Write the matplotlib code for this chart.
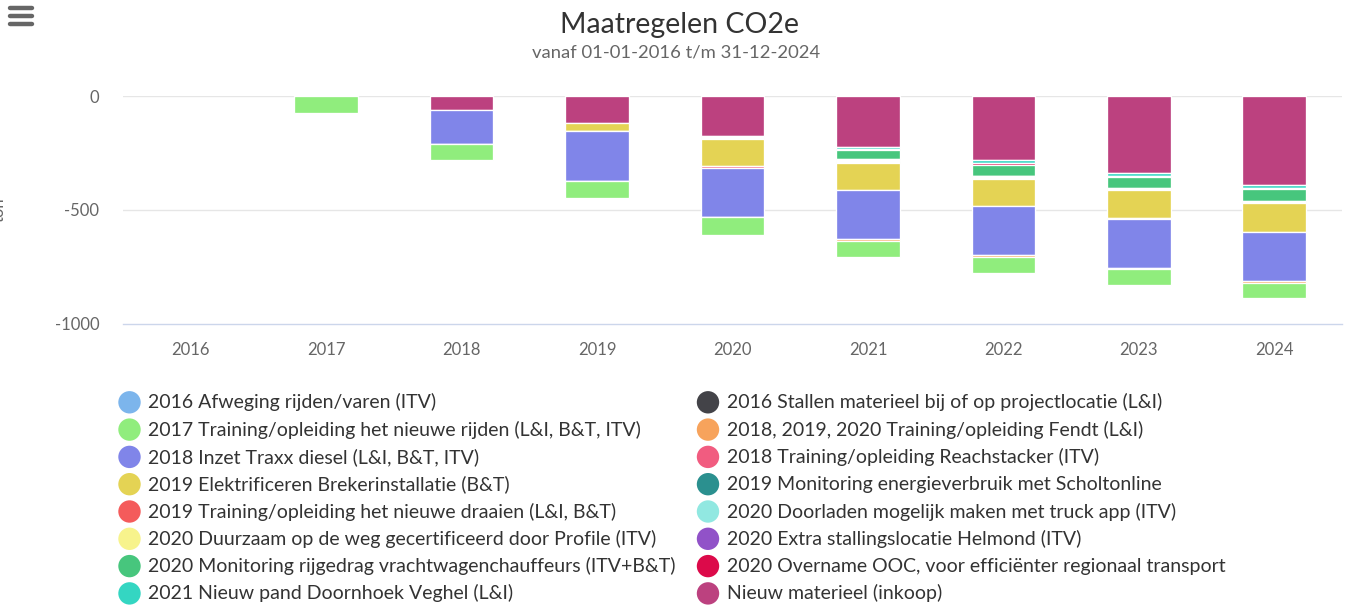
import matplotlib
matplotlib.use("Agg")
import matplotlib.pyplot as plt
import numpy as np

# ---------------- data ----------------
years = ["2016", "2017", "2018", "2019", "2020", "2021", "2022", "2023", "2024"]

series_names = [
    "2016 Afweging rijden/varen (ITV)",
    "2016 Stallen materieel bij of op projectlocatie (L&I)",
    "2017 Training/opleiding het nieuwe rijden (L&I, B&T, ITV)",
    "2018, 2019, 2020 Training/opleiding Fendt (L&I)",
    "2018 Inzet Traxx diesel (L&I, B&T, ITV)",
    "2018 Training/opleiding Reachstacker (ITV)",
    "2019 Elektrificeren Brekerinstallatie (B&T)",
    "2019 Monitoring energieverbruik met Scholtonline",
    "2019 Training/opleiding het nieuwe draaien (L&I, B&T)",
    "2020 Doorladen mogelijk maken met truck app (ITV)",
    "2020 Duurzaam op de weg gecertificeerd door Profile (ITV)",
    "2020 Extra stallingslocatie Helmond (ITV)",
    "2020 Monitoring rijgedrag vrachtwagenchauffeurs (ITV+B&T)",
    "2020 Overname OOC, voor efficiënter regionaal transport",
    "2021 Nieuw pand Doornhoek Veghel (L&I)",
    "Nieuw materieel (inkoop)",
]

afweging_2016      = [0, 0, 0, 0, 0, 0, 0, 0, 0]
stallen_2016       = [0, 0, 0, 0, 0, 0, 0, 0, 0]
training_rijden    = [0, -75, -68, -73, -77, -70, -71, -74, -69]
training_fendt     = [0, 0, -3, -3, -3, -6, -6, -3, -6]
traxx_diesel       = [0, 0, -146, -216, -214, -218, -217, -216, -217]
reachstacker       = [0, 0, 0, -2, -6, 0, 0, -3, 0]
elektrificeren     = [0, 0, 0, -33, -119, -118, -118, -124, -125]
monitoring_energie = [0, 0, 0, 0, -4, -4, -4, -3, -3]
training_draaien   = [0, 0, 0, 0, 0, 0, 0, 0, 0]
doorladen_app      = [0, 0, 0, 0, -4, -4, -4, -2, -3]
duurzaam_profile   = [0, 0, 0, 0, -4, -4, -4, 0, 0]
stalling_helmond   = [0, 0, 0, 0, -4, -3, -3, -2, -3]
monitoring_rij     = [0, 0, 0, 0, 0, -42, -48, -48, -54]
overname_ooc       = [0, 0, 0, 0, 0, -2, -6, -5, -2]
pand_doornhoek     = [0, 0, 0, 0, 0, -11, -13, -13, -14]
nieuw_materieel    = [0, 0, -63, -120, -174, -223, -282, -338, -391]

series_values = [afweging_2016, stallen_2016, training_rijden, training_fendt,
                 traxx_diesel, reachstacker, elektrificeren, monitoring_energie,
                 training_draaien, doorladen_app, duurzaam_profile, stalling_helmond,
                 monitoring_rij, overname_ooc, pand_doornhoek, nieuw_materieel]

series_colors = ["#7cb5ec", "#434348", "#90ed7d", "#f7a35c", "#8085e9", "#f15c80",
                 "#e4d354", "#2b908f", "#f45b5b", "#91e8e1", "#f7f38c", "#9152c8",
                 "#47c67d", "#dc0a4a", "#34d6c2", "#bc417f"]

yticks = [0, -500, -1000]

# ---------------- figure ----------------
plt.rcParams['font.family'] = ['Lato', 'DejaVu Sans']
W, H = 1350, 605
fig = plt.figure(figsize=(W / 100, H / 100), dpi=100)
ax = fig.add_axes([123 / W, 1 - 324 / H, (1342 - 123) / W, (324 - 96) / H])

x = np.arange(len(years))
cum = np.zeros(len(years))
for name, vals, col in reversed(list(zip(series_names, series_values, series_colors))):
    v = np.array(vals, dtype=float)
    m = v != 0
    if m.any():
        ax.bar(x[m], v[m], bottom=cum[m], width=0.47, color=col,
               edgecolor="white", linewidth=0.95, zorder=3)
    cum += v

ax.set_xlim(-0.5, len(years) - 0.5)
ax.set_ylim(-1000, 0)
ax.set_yticks(yticks)
ax.set_yticklabels([str(t) for t in yticks])
ax.set_xticks(x)
ax.set_xticklabels(years)
ax.tick_params(axis="both", length=0, colors="#666666", labelsize=12)
ax.tick_params(axis="y", pad=17)
ax.tick_params(axis="x", pad=13)
for lab in ax.get_yticklabels():
    lab.set_horizontalalignment("right")
for s in ["top", "right", "left"]:
    ax.spines[s].set_visible(False)
ax.spines["bottom"].set_color("#ccd6eb")
ax.spines["bottom"].set_linewidth(1.0)
for t in [0, -500]:
    ax.axhline(t, color="#e6e6e6", linewidth=1.0, zorder=1)

# titles
fig.text(679 / W, 1 - 25 / H, "Maatregelen CO2e", ha="center", va="center",
         fontsize=20.5, color="#333333")
fig.text(676 / W, 1 - 53 / H, "vanaf 01-01-2016 t/m 31-12-2024", ha="center",
         va="center", fontsize=13.3, color="#666666")
# y-axis title (partly cut off at the left edge, as in the reference)
fig.text(7 / W, 1 - 210 / H, "ton", ha="right", va="center", rotation=90,
         fontsize=12, color="#666666")

# overlay in pixel coordinates for legend and menu icon
ov = fig.add_axes([0, 0, 1, 1], zorder=5)
ov.set_xlim(0, W)
ov.set_ylim(H, 0)
ov.axis("off")
ov.patch.set_alpha(0)

# hamburger menu icon
for yy in [8, 16, 24]:
    ov.plot([10, 32], [yy, yy], color="#666666", linewidth=3.2,
            solid_capstyle="round")

# legend (two columns, filled row-wise)
col_marker_x = [129.5, 708]
col_text_x = [148, 727]
row_y0, row_dy = 402.3, 27.3
for i, (name, col) in enumerate(zip(series_names, series_colors)):
    c = i % 2
    r = i // 2
    yy = row_y0 + r * row_dy
    ov.scatter([col_marker_x[c]], [yy], s=260, color=col, edgecolors="none")
    ov.text(col_text_x[c], yy, name, ha="left", va="center", fontsize=14,
            color="#333333")

fig.savefig("out.png", dpi=100)
